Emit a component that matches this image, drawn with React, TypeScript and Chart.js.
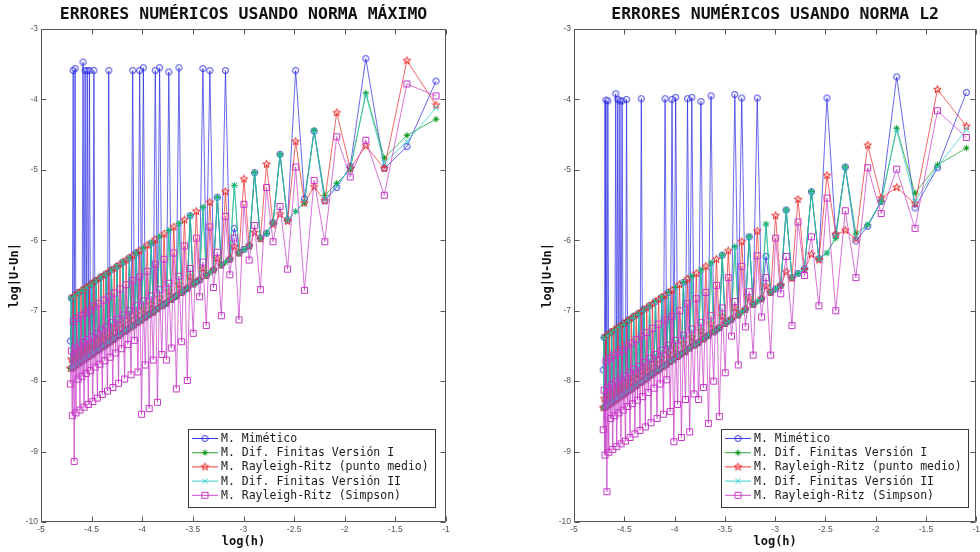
import React, { useEffect, useRef } from 'react';
import { Chart, registerables } from 'chart.js';

Chart.register(...registerables);

// Mesh sizes N (h = 1/N); the x axis is log(h)
const N_VALUES = [
  3, 4, 5, 6, 7, 8, 9, 10, 11, 12,
  13, 14, 15, 16, 17, 18, 19, 20, 21, 22,
  23, 24, 25, 26, 27, 28, 29, 30, 31, 32,
  33, 34, 35, 36, 37, 38, 39, 40, 41, 42,
  43, 44, 45, 46, 47, 48, 49, 50, 51, 52,
  53, 54, 55, 56, 57, 58, 59, 60, 61, 62,
  63, 64, 65, 66, 67, 68, 69, 70, 71, 72,
  73, 74, 75, 76, 77, 78, 79, 80, 81, 82,
  83, 84, 85, 86, 87, 88, 89, 90, 91, 92,
  93, 94, 95, 96, 97, 98, 99, 100, 101, 102,
  103, 104, 105, 106, 107, 108, 109, 110, 111,
];

// ---------- Norma máximo ----------
const maxMimetico = [
  -3.74, -4.67, -4.98, -3.42, -4.95, -5.25, -5.44, -4.45, -5.41, -3.59,
  -5.71, -4.78, -5.75, -5.90, -5.97, -5.04, -6.08, -6.13, -6.18, -5.83,
  -6.27, -3.59, -6.35, -5.39, -6.42, -3.59, -6.50, -3.56, -6.56, -6.59,
  -6.62, -5.65, -6.68, -6.71, -6.74, -3.55, -6.79, -6.81, -6.84, -3.61,
  -6.89, -6.91, -6.93, -3.55, -6.97, -3.59, -7.02, -6.04, -7.05, -7.07,
  -7.09, -3.55, -7.13, -3.59, -7.16, -6.18, -7.20, -3.59, -7.23, -6.25,
  -7.26, -7.28, -7.29, -6.31, -7.32, -7.34, -7.35, -6.37, -7.38, -7.40,
  -7.41, -6.42, -7.44, -3.59, -7.46, -6.48, -7.49, -7.50, -7.51, -6.52,
  -7.54, -7.55, -7.56, -6.57, -7.58, -3.59, -7.61, -6.62, -7.63, -3.59,
  -7.65, -3.59, -7.67, -3.59, -7.69, -3.47, -7.71, -7.72, -7.73, -6.74,
  -7.75, -7.76, -7.77, -3.56, -7.79, -3.59, -7.81, -6.82, -7.43,
];
const maxDifFinI = [
  -4.28, -4.51, -4.83, -3.91, -5.00, -5.19, -5.36, -4.44, -5.47, -5.59,
  -5.71, -4.78, -5.75, -5.90, -5.97, -5.04, -6.08, -6.13, -6.18, -5.22,
  -6.27, -6.31, -6.35, -5.39, -6.42, -6.46, -6.50, -5.53, -6.56, -6.59,
  -6.62, -5.65, -6.68, -6.71, -6.74, -5.76, -6.79, -6.81, -6.84, -5.86,
  -6.89, -6.91, -6.93, -5.95, -6.97, -6.99, -7.02, -6.04, -7.05, -7.07,
  -7.09, -6.11, -7.13, -7.15, -7.16, -6.18, -7.20, -7.22, -7.23, -6.25,
  -7.26, -7.28, -7.29, -6.31, -7.32, -7.34, -7.35, -6.37, -7.38, -7.40,
  -7.41, -6.42, -7.44, -7.45, -7.46, -6.48, -7.49, -7.50, -7.51, -6.52,
  -7.54, -7.55, -7.56, -6.57, -7.58, -7.59, -7.61, -6.62, -7.63, -7.64,
  -7.65, -6.66, -7.67, -7.68, -7.69, -6.70, -7.71, -7.72, -7.73, -6.74,
  -7.75, -7.76, -7.77, -6.78, -7.79, -7.80, -7.81, -6.82, -7.82,
];
const maxRRMedio = [
  -4.08, -3.45, -4.98, -4.66, -4.98, -4.19, -5.44, -5.24, -5.47, -4.60,
  -5.73, -5.63, -5.78, -4.92, -5.98, -5.89, -6.08, -5.13, -6.18, -6.09,
  -6.27, -5.31, -6.35, -6.26, -6.42, -5.46, -6.50, -6.40, -6.56, -5.59,
  -6.62, -6.52, -6.68, -5.71, -6.74, -6.63, -6.79, -5.81, -6.84, -6.73,
  -6.89, -5.91, -6.93, -6.82, -6.97, -5.99, -7.02, -6.91, -7.05, -6.07,
  -7.09, -6.98, -7.13, -6.15, -7.16, -7.05, -7.20, -6.22, -7.23, -7.12,
  -7.26, -6.28, -7.29, -7.18, -7.32, -6.34, -7.35, -7.24, -7.38, -6.40,
  -7.41, -7.29, -7.44, -6.45, -7.46, -7.35, -7.49, -6.50, -7.51, -7.39,
  -7.54, -6.55, -7.56, -7.44, -7.58, -6.59, -7.61, -7.49, -7.63, -6.64,
  -7.65, -7.53, -7.67, -6.68, -7.69, -7.57, -7.71, -6.72, -7.73, -7.61,
  -7.75, -6.76, -7.77, -7.65, -7.79, -6.80, -7.81, -7.69, -7.82,
];
const maxDifFinII = [
  -4.12, -4.60, -4.90, -3.93, -4.98, -5.22, -5.42, -4.44, -5.45, -5.59,
  -5.71, -4.78, -5.75, -5.90, -5.97, -5.04, -6.08, -6.13, -6.18, -5.22,
  -6.27, -6.31, -6.35, -5.39, -6.42, -6.46, -6.50, -5.53, -6.56, -6.59,
  -6.62, -5.65, -6.68, -6.71, -6.74, -5.76, -6.79, -6.81, -6.84, -5.86,
  -6.89, -6.91, -6.93, -5.95, -6.97, -6.99, -7.02, -6.04, -7.05, -7.07,
  -7.09, -6.11, -7.13, -7.15, -7.16, -6.18, -7.20, -7.22, -7.23, -6.25,
  -7.26, -7.28, -7.29, -6.31, -7.32, -7.34, -7.35, -6.37, -7.38, -7.40,
  -7.41, -6.42, -7.44, -7.45, -7.46, -6.48, -7.49, -7.50, -7.51, -6.52,
  -7.54, -7.55, -7.56, -6.57, -7.58, -7.59, -7.61, -6.62, -7.63, -7.64,
  -7.65, -6.66, -7.67, -7.68, -7.69, -6.70, -7.71, -7.72, -7.73, -6.74,
  -7.75, -7.76, -7.77, -6.78, -7.79, -7.80, -7.81, -6.82, -7.82,
];
const maxRRSimpson = [
  -3.95, -3.78, -5.36, -4.58, -5.10, -4.53, -6.02, -5.15, -6.71, -4.96,
  -6.41, -5.52, -6.02, -5.25, -6.70, -5.79, -6.28, -5.49, -7.13, -5.97,
  -6.49, -5.66, -7.07, -6.17, -6.67, -5.81, -7.21, -6.31, -6.80, -5.97,
  -7.32, -6.40, -7.99, -6.08, -7.44, -6.51, -8.11, -6.18, -7.53, -6.61,
  -7.70, -6.27, -7.62, -6.70, -8.30, -6.34, -7.70, -6.79, -8.39, -6.44,
  -7.77, -6.86, -8.47, -6.52, -7.87, -6.93, -7.42, -6.57, -7.91, -7.00,
  -7.48, -6.63, -7.97, -7.06, -7.54, -6.69, -8.03, -7.12, -7.60, -6.75,
  -8.09, -7.17, -7.66, -6.80, -8.14, -7.23, -7.71, -6.85, -8.19, -7.27,
  -7.76, -6.90, -8.24, -7.32, -7.80, -6.94, -8.29, -7.37, -7.85, -6.99,
  -8.33, -7.41, -7.89, -7.03, -8.37, -7.45, -7.93, -7.07, -8.41, -7.49,
  -7.97, -7.11, -8.45, -7.53, -9.14, -7.15, -8.49, -7.57, -8.04,
];

// ---------- Norma L2 ----------
const l2Mimetico = [
  -3.90, -4.97, -5.54, -3.68, -5.45, -5.80, -6.01, -4.96, -5.92, -3.98,
  -6.26, -5.31, -6.40, -6.47, -6.53, -5.57, -6.64, -6.69, -6.74, -6.23,
  -6.83, -3.98, -6.91, -5.95, -6.98, -3.98, -7.06, -3.93, -7.12, -7.15,
  -7.18, -6.21, -7.24, -7.27, -7.30, -3.95, -7.35, -7.37, -7.40, -4.03,
  -7.45, -7.47, -7.49, -3.97, -7.53, -3.99, -7.58, -6.60, -7.61, -7.63,
  -7.65, -3.97, -7.69, -4.00, -7.72, -6.74, -7.76, -3.99, -7.79, -6.81,
  -7.82, -7.84, -7.85, -6.87, -7.88, -7.90, -7.91, -6.93, -7.94, -7.96,
  -7.97, -6.98, -8.00, -3.99, -8.02, -7.04, -8.05, -8.06, -8.07, -7.08,
  -8.10, -8.11, -8.12, -7.13, -8.14, -4.00, -8.17, -7.18, -8.19, -4.02,
  -8.21, -4.02, -8.23, -4.00, -8.25, -3.92, -8.27, -8.28, -8.29, -7.30,
  -8.31, -8.32, -8.33, -4.02, -8.35, -4.01, -8.37, -7.38, -7.84,
];
const l2DifFinI = [
  -4.69, -4.93, -5.33, -4.41, -5.45, -5.78, -5.90, -4.96, -5.97, -6.18,
  -6.26, -5.31, -6.40, -6.47, -6.53, -5.57, -6.64, -6.69, -6.74, -5.77,
  -6.83, -6.87, -6.91, -5.95, -6.98, -7.02, -7.06, -6.09, -7.12, -7.15,
  -7.18, -6.21, -7.24, -7.27, -7.30, -6.32, -7.35, -7.37, -7.40, -6.42,
  -7.45, -7.47, -7.49, -6.51, -7.53, -7.55, -7.58, -6.60, -7.61, -7.63,
  -7.65, -6.67, -7.69, -7.71, -7.72, -6.74, -7.76, -7.78, -7.79, -6.81,
  -7.82, -7.84, -7.85, -6.87, -7.88, -7.90, -7.91, -6.93, -7.94, -7.96,
  -7.97, -6.98, -8.00, -8.01, -8.02, -7.04, -8.05, -8.06, -8.07, -7.08,
  -8.10, -8.11, -8.12, -7.13, -8.14, -8.15, -8.17, -7.18, -8.19, -8.20,
  -8.21, -7.22, -8.23, -8.24, -8.25, -7.26, -8.27, -8.28, -8.29, -7.30,
  -8.31, -8.32, -8.33, -7.34, -8.35, -8.36, -8.37, -7.38, -8.38,
];
const l2RRMedio = [
  -4.38, -3.86, -5.48, -5.25, -5.40, -4.65, -5.98, -5.86, -5.92, -5.08,
  -6.28, -6.20, -6.42, -5.42, -6.54, -6.45, -6.64, -5.65, -6.74, -6.65,
  -6.83, -5.87, -6.91, -6.82, -6.98, -6.02, -7.06, -6.96, -7.12, -6.15,
  -7.18, -7.08, -7.24, -6.27, -7.30, -7.19, -7.35, -6.37, -7.40, -7.29,
  -7.45, -6.47, -7.49, -7.38, -7.53, -6.55, -7.58, -7.47, -7.61, -6.63,
  -7.65, -7.54, -7.69, -6.71, -7.72, -7.61, -7.76, -6.78, -7.79, -7.68,
  -7.82, -6.84, -7.85, -7.74, -7.88, -6.90, -7.91, -7.80, -7.94, -6.96,
  -7.97, -7.85, -8.00, -7.01, -8.02, -7.91, -8.05, -7.06, -8.07, -7.95,
  -8.10, -7.11, -8.12, -8.00, -8.14, -7.15, -8.17, -8.05, -8.19, -7.20,
  -8.21, -8.09, -8.23, -7.24, -8.25, -8.13, -8.27, -7.28, -8.29, -8.17,
  -8.31, -7.32, -8.33, -8.21, -8.35, -7.36, -8.37, -8.25, -8.38,
];
const l2DifFinII = [
  -4.43, -4.95, -5.45, -4.43, -5.45, -5.78, -5.95, -4.96, -5.95, -6.18,
  -6.26, -5.31, -6.40, -6.47, -6.53, -5.57, -6.64, -6.69, -6.74, -5.77,
  -6.83, -6.87, -6.91, -5.95, -6.98, -7.02, -7.06, -6.09, -7.12, -7.15,
  -7.18, -6.21, -7.24, -7.27, -7.30, -6.32, -7.35, -7.37, -7.40, -6.42,
  -7.45, -7.47, -7.49, -6.51, -7.53, -7.55, -7.58, -6.60, -7.61, -7.63,
  -7.65, -6.67, -7.69, -7.71, -7.72, -6.74, -7.76, -7.78, -7.79, -6.81,
  -7.82, -7.84, -7.85, -6.87, -7.88, -7.90, -7.91, -6.93, -7.94, -7.96,
  -7.97, -6.98, -8.00, -8.01, -8.02, -7.04, -8.05, -8.06, -8.07, -7.08,
  -8.10, -8.11, -8.12, -7.13, -8.14, -8.15, -8.17, -7.18, -8.19, -8.20,
  -8.21, -7.22, -8.23, -8.24, -8.25, -7.26, -8.27, -8.28, -8.29, -7.30,
  -8.31, -8.32, -8.33, -7.34, -8.35, -8.36, -8.37, -7.38, -8.38,
];
const l2RRSimpson = [
  -4.54, -4.16, -5.83, -4.99, -5.62, -4.97, -6.53, -5.58, -7.00, -5.40,
  -6.93, -5.95, -6.50, -5.74, -7.21, -6.23, -6.76, -5.97, -7.63, -6.53,
  -7.09, -6.22, -7.63, -6.73, -7.23, -6.37, -7.77, -6.87, -7.36, -6.53,
  -7.88, -6.96, -8.50, -6.64, -8.00, -7.07, -8.60, -6.74, -8.09, -7.17,
  -8.26, -6.83, -8.18, -7.26, -8.72, -6.90, -8.26, -7.35, -8.80, -7.00,
  -8.33, -7.42, -8.86, -7.08, -8.43, -7.49, -7.98, -7.13, -8.47, -7.56,
  -8.04, -7.19, -8.53, -7.62, -8.10, -7.25, -8.59, -7.68, -8.16, -7.31,
  -8.65, -7.73, -8.22, -7.36, -8.70, -7.79, -8.27, -7.41, -8.75, -7.83,
  -8.32, -7.46, -8.80, -7.88, -8.36, -7.50, -8.85, -7.93, -8.41, -7.55,
  -8.89, -7.97, -8.45, -7.59, -8.93, -8.01, -8.49, -7.63, -8.97, -8.05,
  -8.53, -7.67, -9.01, -8.09, -9.57, -7.71, -9.05, -8.13, -8.69,
];

const SERIES_LABELS = [
  'M. Mimético',
  'M. Dif. Finitas Versión I',
  'M. Rayleigh-Ritz (punto medio)',
  'M. Dif. Finitas Versión II',
  'M. Rayleigh-Ritz (Simpson)',
];
const SERIES_COLORS = ['#2626e2', '#159a22', '#ec2424', '#22c8c8', '#c636c6'];
const SERIES_MARKERS = ['circle', 'asterisk', 'pentagram', 'x', 'square'];

const X_TICKS = [-5, -4.5, -4, -3.5, -3, -2.5, -2, -1.5, -1];
const X_TICK_LABELS = ['-5', '-4.5', '-4', '-3.5', '-3', '-2.5', '-2', '-1.5', '-1'];
const Y_TICKS = [-10, -9, -8, -7, -6, -5, -4, -3];
const Y_TICK_LABELS = ['-10', '-9', '-8', '-7', '-6', '-5', '-4', '-3'];

const TITLE_MAX = 'ERRORES NUMÉRICOS USANDO NORMA MÁXIMO';
const TITLE_L2 = 'ERRORES NUMÉRICOS USANDO NORMA L2';
const X_LABEL = 'log(h)';
const Y_LABEL = 'log|U-Un|';

const LOG_H = N_VALUES.map((n) => Math.log(1 / n));

function makeMarker(kind: string, color: string): HTMLCanvasElement {
  const s = 11;
  const c = document.createElement('canvas');
  c.width = s;
  c.height = s;
  const g = c.getContext('2d')!;
  g.strokeStyle = color;
  g.lineWidth = 1;
  const m = s / 2;
  g.beginPath();
  if (kind === 'circle') {
    g.arc(m, m, 3, 0, Math.PI * 2);
  } else if (kind === 'square') {
    g.rect(m - 3, m - 3, 6, 6);
  } else if (kind === 'asterisk') {
    for (let k = 0; k < 4; k++) {
      const t = (k * Math.PI) / 4;
      g.moveTo(m - 3.2 * Math.cos(t), m - 3.2 * Math.sin(t));
      g.lineTo(m + 3.2 * Math.cos(t), m + 3.2 * Math.sin(t));
    }
  } else if (kind === 'x') {
    const r = 2.6;
    g.moveTo(m - r, m - r);
    g.lineTo(m + r, m + r);
    g.moveTo(m + r, m - r);
    g.lineTo(m - r, m + r);
  } else if (kind === 'pentagram') {
    for (let k = 0; k < 10; k++) {
      const t = -Math.PI / 2 + (k * Math.PI) / 5;
      const r = k % 2 === 0 ? 4 : 1.6;
      const px = m + r * Math.cos(t);
      const py = m + r * Math.sin(t);
      if (k === 0) g.moveTo(px, py);
      else g.lineTo(px, py);
    }
    g.closePath();
  }
  g.stroke();
  return c;
}

const decorPlugin = {
  id: 'matlabDecor',
  afterDraw(chart: any, _args: any, opts: any) {
    const { ctx, chartArea: a } = chart;
    const xs = chart.scales.x;
    const ys = chart.scales.y;
    const L = Math.round(a.left) + 0.5;
    const R = Math.round(a.right) - 0.5;
    const T = Math.round(a.top) + 0.5;
    const B = Math.round(a.bottom) - 0.5;
    ctx.save();

    // legend
    const lx = Math.round(a.left) + 147;
    const ly = Math.round(a.bottom) - 93;
    const lw = 247;
    const lh = 78;
    ctx.fillStyle = '#ffffff';
    ctx.fillRect(lx, ly, lw, lh);
    ctx.strokeStyle = '#3a3a3a';
    ctx.lineWidth = 1;
    ctx.strokeRect(lx + 0.5, ly + 0.5, lw, lh);
    ctx.font = '11.5px "DejaVu Sans Mono", monospace';
    ctx.textAlign = 'left';
    ctx.textBaseline = 'middle';
    SERIES_LABELS.forEach((lab, i) => {
      const y = ly + 9.5 + i * 14.2;
      ctx.strokeStyle = SERIES_COLORS[i];
      ctx.lineWidth = 0.9;
      ctx.beginPath();
      ctx.moveTo(lx + 4, y);
      ctx.lineTo(lx + 30, y);
      ctx.stroke();
      const mk = opts.markers[i];
      ctx.drawImage(mk, lx + 17 - mk.width / 2, y - mk.height / 2);
      ctx.fillStyle = '#1a1a1a';
      ctx.fillText(lab, lx + 33, y + 0.5);
    });

    // axes box
    ctx.strokeStyle = '#555555';
    ctx.lineWidth = 1;
    ctx.beginPath();
    ctx.rect(L, T, R - L, B - T);
    ctx.stroke();
    ctx.beginPath();
    for (const v of X_TICKS) {
      const p = Math.round(xs.getPixelForValue(v)) + 0.5;
      ctx.moveTo(p, B);
      ctx.lineTo(p, B - 5);
      ctx.moveTo(p, T);
      ctx.lineTo(p, T + 5);
    }
    for (const v of Y_TICKS) {
      const p = Math.round(ys.getPixelForValue(v)) + 0.5;
      ctx.moveTo(L, p);
      ctx.lineTo(L + 5, p);
      ctx.moveTo(R, p);
      ctx.lineTo(R - 5, p);
    }
    ctx.stroke();

    // tick labels
    ctx.fillStyle = '#555555';
    ctx.font = '8.5px "Liberation Sans", Arial, sans-serif';
    ctx.textAlign = 'center';
    ctx.textBaseline = 'top';
    X_TICKS.forEach((v, i) => ctx.fillText(X_TICK_LABELS[i], xs.getPixelForValue(v), a.bottom + 3));
    ctx.textAlign = 'right';
    ctx.textBaseline = 'middle';
    Y_TICKS.forEach((v, i) => ctx.fillText(Y_TICK_LABELS[i], a.left - 3, ys.getPixelForValue(v)));

    // title and axis labels
    ctx.fillStyle = '#111111';
    ctx.textAlign = 'center';
    ctx.textBaseline = 'middle';
    ctx.font = 'bold 16.5px "DejaVu Sans Mono", monospace';
    ctx.fillText(opts.title, (a.left + a.right) / 2, a.top - 14);
    ctx.font = 'bold 12px "DejaVu Sans Mono", monospace';
    ctx.fillText(X_LABEL, (a.left + a.right) / 2, a.bottom + 20);
    ctx.translate(a.left - 26, (a.top + a.bottom) / 2);
    ctx.rotate(-Math.PI / 2);
    ctx.fillText(Y_LABEL, 0, 0);
    ctx.restore();
  },
};

function makeConfig(series: number[][], title: string, padLeft: number, padRight: number, markers: HTMLCanvasElement[]): any {
  const datasets = series.map((vals, i) => ({
    label: SERIES_LABELS[i],
    data: vals.map((y, k) => ({ x: LOG_H[k], y })),
    showLine: true,
    borderColor: SERIES_COLORS[i],
    backgroundColor: SERIES_COLORS[i],
    borderWidth: 0.7,
    pointStyle: markers[i],
    pointRadius: 3,
    pointHoverRadius: 3,
    order: 4 - i,
  }));
  return {
    type: 'scatter',
    data: { datasets },
    options: {
      responsive: false,
      animation: false,
      devicePixelRatio: 1,
      events: [],
      layout: { padding: { left: padLeft, right: padRight, top: 29, bottom: 30 } },
      scales: {
        x: { type: 'linear', min: -5, max: -1, display: false },
        y: { type: 'linear', min: -10, max: -3, display: false },
      },
      plugins: {
        legend: { display: false },
        tooltip: { enabled: false },
        title: { display: false },
        matlabDecor: { title, markers },
      },
    },
    plugins: [decorPlugin],
  };
}

export default function App() {
  const ref1 = useRef<HTMLCanvasElement>(null);
  const ref2 = useRef<HTMLCanvasElement>(null);

  useEffect(() => {
    const markers = SERIES_MARKERS.map((m, i) => makeMarker(m, SERIES_COLORS[i]));
    const c1 = new Chart(
      ref1.current!,
      makeConfig([maxMimetico, maxDifFinI, maxRRMedio, maxDifFinII, maxRRSimpson], TITLE_MAX, 41, 44, markers)
    );
    const c2 = new Chart(
      ref2.current!,
      makeConfig([l2Mimetico, l2DifFinI, l2RRMedio, l2DifFinII, l2RRSimpson], TITLE_L2, 84, 1, markers)
    );
    return () => {
      c1.destroy();
      c2.destroy();
    };
  }, []);

  return (
    <div style={{ position: 'fixed', left: 0, top: 0, width: 980, height: 552, background: '#ffffff', overflow: 'hidden' }}>
      <canvas ref={ref1} width={490} height={552} style={{ position: 'absolute', left: 0, top: 0 }} />
      <canvas ref={ref2} width={490} height={552} style={{ position: 'absolute', left: 490, top: 0 }} />
    </div>
  );
}
